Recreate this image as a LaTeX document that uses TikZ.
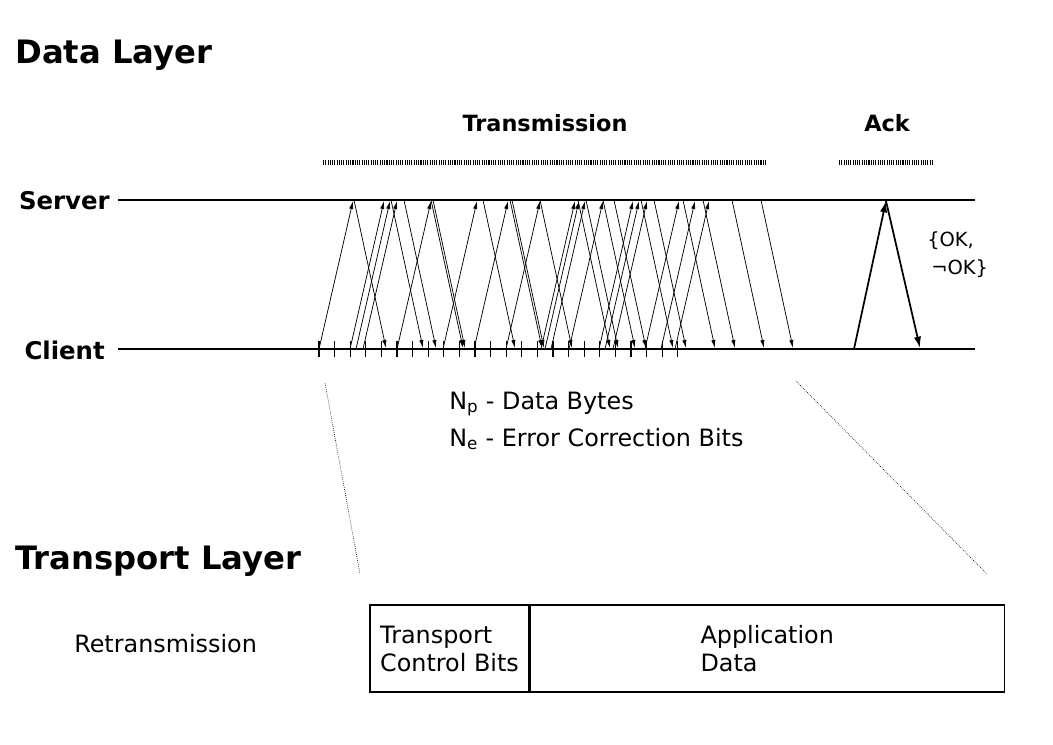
\documentclass[tikz,border=0pt]{standalone}
\usepackage{fontspec}
\setmainfont{DejaVu Sans}
\usetikzlibrary{arrows.meta}

\begin{document}
\begin{tikzpicture}[x=0.75pt, y=-0.75pt,
      title/.style={font=\fontsize{24.2}{28}\selectfont\bfseries, anchor=base west, inner sep=0pt},
      lane/.style={font=\fontsize{18.3}{22}\selectfont\bfseries, anchor=base east, inner sep=0pt},
      phase/.style={font=\fontsize{16.8}{20}\selectfont\bfseries, anchor=base, inner sep=0pt},
      txt/.style={font=\fontsize{17.9}{21}\selectfont, inner sep=0pt},
      field/.style={draw, line width=0.9pt, txt, align=left, minimum height=65.25pt},
      pkt/.style={line width=0.55pt, -{Latex[length=6pt,width=3.2pt]}},
      ackarr/.style={line width=1.3pt, -{Latex[length=8.5pt,width=5.5pt]}},
      tick/.style={line width=0.8pt},
      hatch/.style={line width=3.75pt, dash pattern=on 0.8pt off 0.9pt},
      zoomline/.style={densely dotted, line width=0.5pt}]
   \useasboundingbox (0,0) rectangle (1053,745);
   \def\top{200}
   \def\bot{349}
   % data layer
   \node[title] (datalayer) at (15,64) {Data Layer};
   \node[lane] (server) at (110,210) {Server};
   \node[lane] (client) at (105,359) {Client};
   \node[phase] (transm) at (545,132) {Transmission};
   \node[phase] (ack) at (887,132) {Ack};
   \draw[hatch] (323,163) -- (767,163);
   \draw[hatch] (839,163) -- (934,163);
   \draw[line width=1.2pt] (118,\top) -- (975,\top);
   \draw[line width=1.2pt] (118,\bot) -- (975,\bot);
   \foreach \i in {0,...,23} {
      \draw[tick] (319+\i*15.6,341) -- (319+\i*15.6,357);
   }
   \foreach \x in {319,350,356,363,397,443,474,506,541,545,551,569,599,605,613,645,661,675} {
      \draw[pkt] (\x,\bot) -- (\x+34,\top+1);
   }
   \foreach \x in {354,391,404,431,433,483,510,512,540,578,586,603,614,641,654,683,703,732,761} {
      \draw[pkt] (\x,\top) -- (\x+32,\bot-1);
   }
   \draw[ackarr] (854,\bot) -- (886,\top+1);
   \draw[ackarr] (886,\top+1) -- (920,\bot-1);
   \node[txt, font=\fontsize{14.6}{18}\selectfont, anchor=base west] (ok) at (927,247) {\{OK,};
   \node[txt, font=\fontsize{14.6}{18}\selectfont, anchor=base west] (notok) at (931,275) {¬OK\}};
   \node[txt, anchor=base west] (np) at (449,409) {N\textsubscript{p} - Data Bytes};
   \node[txt, anchor=base west] (ne) at (449,446) {N\textsubscript{e} - Error Correction Bits};
   \draw[zoomline] (325,383) -- (360,574);
   \draw[zoomline] (796,381) -- (987,574);
   % transport layer
   \node[title] (translayer) at (15,569) {Transport Layer};
   \node[txt, anchor=base west] (retrans) at (74,652) {Retransmission};
   \node[field, minimum width=119.25pt] (tcb) at (449.5,648.5) {Transport\\Control Bits};
   \node[field, minimum width=355.5pt, anchor=west] (appdata) at (tcb.east) {Application\\Data};
\end{tikzpicture}
\end{document}
